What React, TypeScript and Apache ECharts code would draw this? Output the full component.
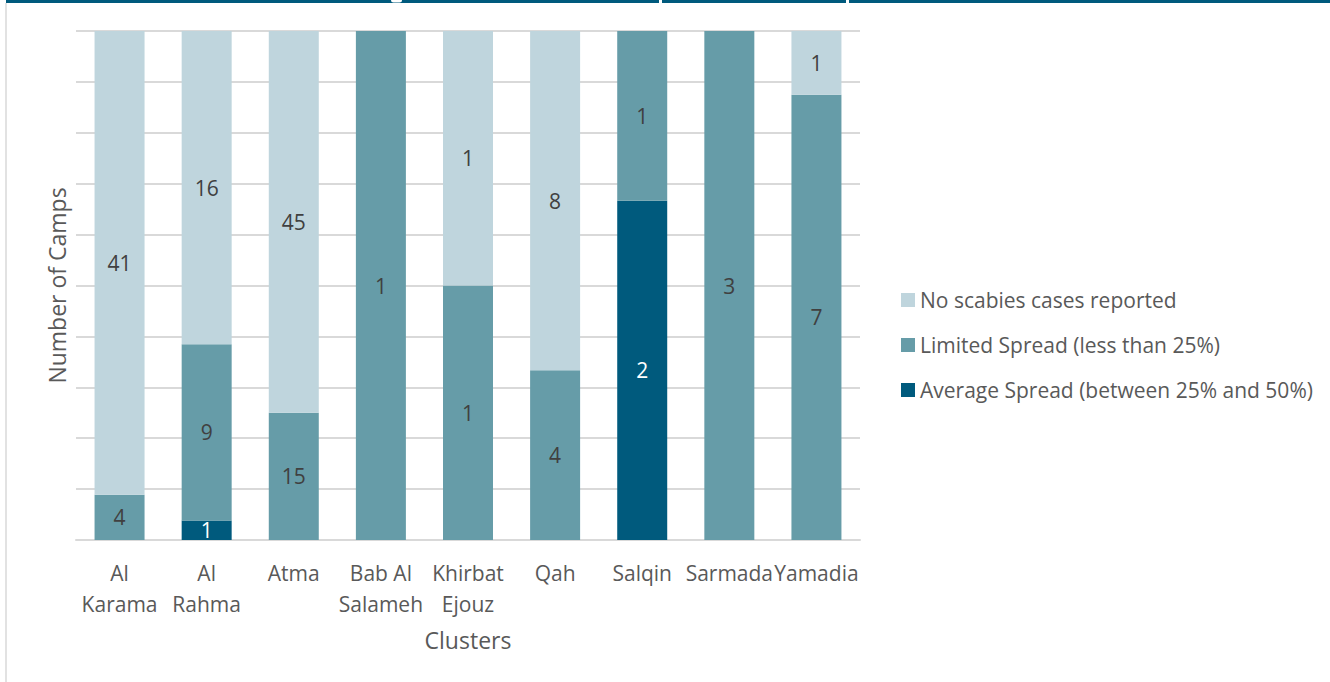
import React, { useEffect, useRef } from "react";
import * as echarts from "echarts";

const categories = ["Al\nKarama", "Al\nRahma", "Atma", "Bab Al\nSalameh", "Khirbat\nEjouz", "Qah", "Salqin", "Sarmada", "Yamadia"];
const noCases = [41, 16, 45, 0, 1, 8, 0, 0, 1];
const limited = [4, 9, 15, 1, 1, 4, 1, 3, 7];
const average = [0, 1, 0, 0, 0, 0, 2, 0, 0];
const yTicks = [0, 10, 20, 30, 40, 50, 60, 70, 80, 90, 100];

const seriesNames = [
  "Average Spread (between 25% and 50%)",
  "Limited Spread (less than 25%)",
  "No scabies cases reported",
];
const colors = ["#005A7D", "#669CA8", "#BFD5DD"];
const FONT = "'Open Sans', 'Noto Sans', sans-serif";

export default function App() {
  const ref = useRef<HTMLDivElement>(null);
  useEffect(() => {
    if (!ref.current) return;
    const chart = echarts.init(ref.current, null, { renderer: "svg" });
    const totals = categories.map((_, i) => noCases[i] + limited[i] + average[i]);
    const raw = [average, limited, noCases];
    const series = raw.map((arr, si) => ({
      name: seriesNames[si],
      type: "bar",
      stack: "total",
      barWidth: 50,
      itemStyle: { color: colors[si] },
      data: arr.map((v, i) => (v / totals[i]) * 100),
      label: {
        show: true,
        position: "inside",
        fontFamily: FONT,
        fontSize: 21,
        color: si === 0 ? "#ffffff" : "#404040",
        formatter: (p: any) => (arr[p.dataIndex] > 0 ? String(arr[p.dataIndex]) : ""),
      },
    }));
    chart.setOption({
      animation: false,
      textStyle: { fontFamily: FONT },
      grid: { left: 76, right: 470, top: 31, bottom: 142, containLabel: false },
      legend: {
        orient: "vertical",
        left: 896,
        top: 284,
        itemWidth: 14,
        itemHeight: 14,
        itemGap: 23,
        icon: "rect",
        data: [seriesNames[2], seriesNames[1], seriesNames[0]],
        textStyle: { fontFamily: FONT, fontSize: 21, color: "#595959", lineHeight: 22 },
      },
      xAxis: {
        type: "category",
        data: categories,
        name: "Clusters",
        nameLocation: "middle",
        nameGap: 88,
        nameTextStyle: { fontFamily: FONT, fontSize: 23, color: "#595959" },
        axisLine: { lineStyle: { color: "#D9D9D9", width: 2 } },
        axisTick: { show: false },
        axisLabel: { fontFamily: FONT, fontSize: 21, color: "#595959", lineHeight: 31, margin: 17, interval: 0 },
      },
      yAxis: {
        type: "value",
        min: yTicks[0],
        max: yTicks[yTicks.length - 1],
        interval: yTicks[1] - yTicks[0],
        name: "Number of Camps",
        nameLocation: "middle",
        nameGap: 8,
        nameTextStyle: { fontFamily: FONT, fontSize: 23, color: "#595959" },
        axisLabel: { show: false },
        axisLine: { show: false },
        axisTick: { show: false },
        splitLine: { lineStyle: { color: "#D9D9D9", width: 2 } },
      },
      graphic: [
        { type: "rect", shape: { x: 6, y: 0, width: 1324, height: 3 }, style: { fill: "#005A7D" } },
        { type: "rect", shape: { x: 659, y: 0, width: 3, height: 3 }, style: { fill: "#ffffff" } },
        { type: "rect", shape: { x: 846, y: 0, width: 3, height: 3 }, style: { fill: "#ffffff" } },
        { type: "rect", shape: { x: 391, y: 0, width: 11, height: 2.5, r: [0, 0, 4, 4] }, style: { fill: "#ffffff" } },
        { type: "line", shape: { x1: 6, y1: 3, x2: 6, y2: 682 }, style: { stroke: "#D9D9D9", lineWidth: 1.5 } },
      ],
      series,
    });
    return () => chart.dispose();
  }, []);
  return <div ref={ref} style={{ position: "fixed", left: 0, top: 0, width: 1330, height: 682, background: "#fff" }} />;
}
